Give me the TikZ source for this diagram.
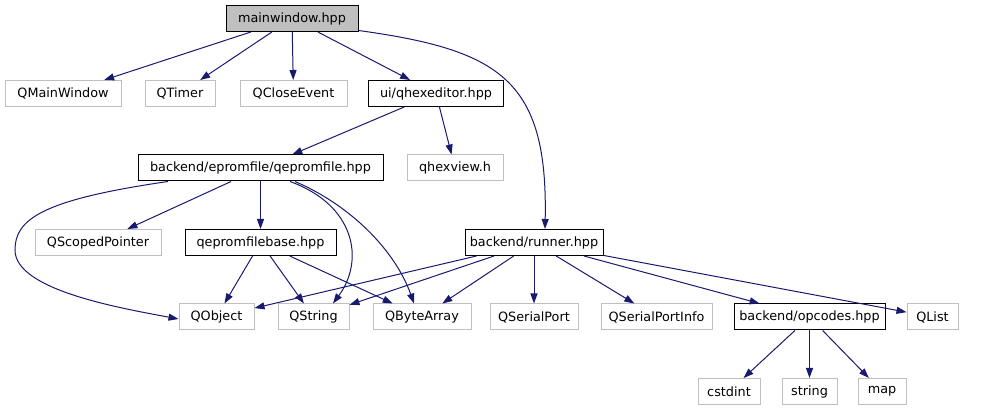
\documentclass[tikz,border=0pt]{standalone}
\usepackage{fontspec}
\setmainfont{DejaVu Sans}
\usetikzlibrary{arrows.meta}
\definecolor{depblue}{HTML}{191970}
\definecolor{extgray}{HTML}{BFBFBF}

\begin{document}
\begin{tikzpicture}[x=1pt, y=-1pt,
    font=\fontsize{12.8}{15}\selectfont,
    >={Triangle[length=10pt, width=7pt]},
    file/.style={draw, line width=1pt, inner xsep=0pt, minimum height=26pt},
    extfile/.style={file, draw=extgray},
    docfile/.style={file, draw=black},
    dep/.style={->, draw=depblue, line width=1pt}]
    \useasboundingbox (0, 0) rectangle (1005, 411);

    \node[docfile, fill=extgray, minimum width=132pt] (mainwin) at (292, 18.5) {mainwindow.hpp};

    \node[extfile, minimum width=116pt] (qmainwindow) at (63, 93.5) {QMainWindow};
    \node[extfile, minimum width=70pt] (qtimer) at (180, 93.5) {QTimer};
    \node[extfile, minimum width=107pt] (qcloseevent) at (293.5, 93.5) {QCloseEvent};
    \node[docfile, minimum width=135pt] (hexeditor) at (436, 93.5) {ui/qhexeditor.hpp};

    \node[docfile, minimum width=245pt] (eprom) at (260.5, 168) {backend/epromfile/qepromfile.hpp};
    \node[extfile, minimum width=96pt] (hexview) at (455, 168) {qhexview.h};

    \node[extfile, minimum width=126pt] (qscoped) at (98, 242.5) {QScopedPointer};
    \node[docfile, minimum width=151pt] (epromBase) at (260.5, 242.5) {qepromfilebase.hpp};
    \node[docfile, minimum width=138pt] (runner) at (534, 242.5) {backend/runner.hpp};

    \node[extfile, minimum width=75pt] (qobject) at (216.5, 317) {QObject};
    \node[extfile, minimum width=71pt] (qstring) at (313.5, 317) {QString};
    \node[extfile, minimum width=98pt] (qbytearray) at (422, 317) {QByteArray};
    \node[extfile, minimum width=88pt] (qserial) at (534, 317) {QSerialPort};
    \node[extfile, minimum width=111pt] (qserialinfo) at (656.5, 317) {QSerialPortInfo};
    \node[docfile, minimum width=151pt] (opcodes) at (809.5, 317) {backend/opcodes.hpp};
    \node[extfile, minimum width=51pt] (qlist) at (932.5, 317) {QList};

    \node[extfile, minimum width=62pt] (cstdint) at (729, 391.5) {cstdint};
    \node[extfile, minimum width=55pt] (stdstring) at (809.5, 391.5) {string};
    \node[extfile, minimum width=48pt] (stdmap) at (882, 391.5) {map};

    \draw[dep] (mainwin) -- (qmainwindow);
    \draw[dep] (mainwin) -- (qtimer);
    \draw[dep] (mainwin) -- (qcloseevent);
    \draw[dep] (mainwin) -- (hexeditor);
    \draw[dep] ([yshift=1.5pt]mainwin.south east) .. controls (500, 50) and (548, 80) .. ([xshift=11pt]runner.north);

    \draw[dep] (hexeditor) -- (eprom);
    \draw[dep] (hexeditor) -- (hexview);

    \draw[dep] ([xshift=-92.5pt]eprom.south) .. controls (40, 200) and (15, 220) .. (15, 250)
        .. controls (15, 290) and (120, 308) .. ([yshift=-2pt]qobject.west);
    \draw[dep] (eprom) -- (qscoped);
    \draw[dep] (eprom) -- (epromBase);
    \draw[dep] ([xshift=29.5pt]eprom.south) .. controls (355, 205) and (365, 260) .. ([xshift=19.5pt]qstring.north);
    \draw[dep] ([xshift=34.5pt]eprom.south) .. controls (350, 205) and (395, 250) .. ([xshift=-8pt]qbytearray.north);

    \draw[dep] (epromBase) -- (qobject);
    \draw[dep] (epromBase) -- (qstring);
    \draw[dep] (epromBase) -- (qbytearray);

    \draw[dep] (runner) -- (qobject);
    \draw[dep] (runner) -- (qstring);
    \draw[dep] (runner) -- (qbytearray);
    \draw[dep] (runner) -- (qserial);
    \draw[dep] (runner) -- (qserialinfo);
    \draw[dep] (runner) -- (opcodes);
    \draw[dep] (runner) -- (qlist);

    \draw[dep] (opcodes) -- (cstdint);
    \draw[dep] (opcodes) -- (stdstring);
    \draw[dep] (opcodes) -- (stdmap);
\end{tikzpicture}
\end{document}
